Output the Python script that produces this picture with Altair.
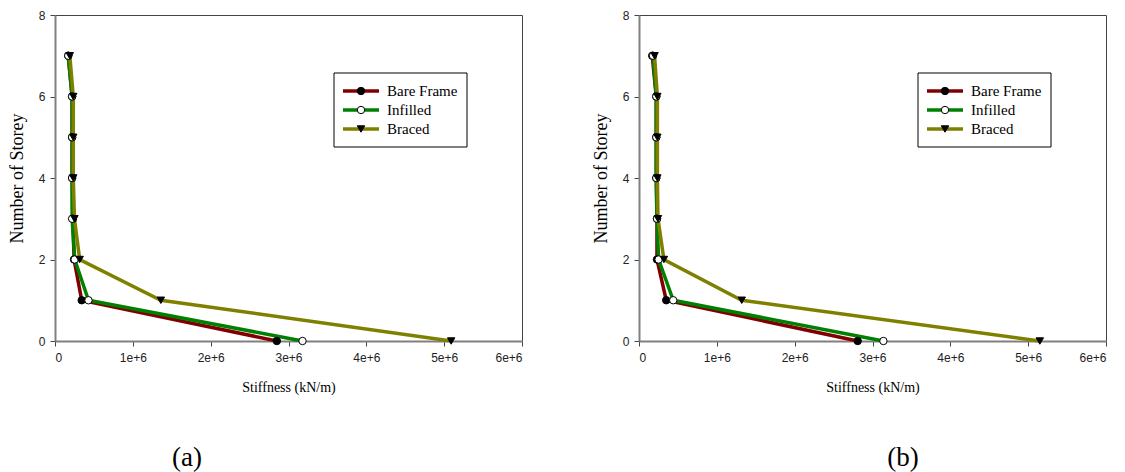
import altair as alt
import pandas as pd

# Storey levels (0 = ground)
storeys = [0, 1, 2, 3, 4, 5, 6, 7]

# Panel (a) stiffness values, kN/m
a_bare = [2.85e6, 0.343e6, 0.245e6, 0.23e6, 0.22e6, 0.22e6, 0.22e6, 0.17e6]
a_infilled = [3.18e6, 0.43e6, 0.253e6, 0.22e6, 0.22e6, 0.22e6, 0.22e6, 0.17e6]
a_braced = [5.09e6, 1.36e6, 0.317e6, 0.25e6, 0.235e6, 0.235e6, 0.235e6, 0.19e6]

# Panel (b) stiffness values, kN/m
b_bare = [2.81e6, 0.35e6, 0.231e6, 0.231e6, 0.222e6, 0.222e6, 0.222e6, 0.17e6]
b_infilled = [3.14e6, 0.44e6, 0.252e6, 0.231e6, 0.222e6, 0.222e6, 0.222e6, 0.18e6]
b_braced = [5.15e6, 1.32e6, 0.32e6, 0.244e6, 0.236e6, 0.236e6, 0.236e6, 0.2e6]

series_names = ["Bare Frame", "Infilled", "Braced"]
line_colors = ["#800000", "#008000", "#808000"]
x_ticks = [0, 1e6, 2e6, 3e6, 4e6, 5e6, 6e6]
y_ticks = [0, 2, 4, 6, 8]

W, H = 467, 326
SERIF = "Liberation Serif, Times New Roman, serif"
SANS = "Liberation Sans, Arial, sans-serif"

# marker style per series: (shape, fill, stroke)
marker_styles = {
    "Bare Frame": ("circle", "black", "black"),
    "Infilled": ("circle", "white", "black"),
    "Braced": ("triangle-down", "black", "black"),
}


def make_frame(bare, infilled, braced):
    rows = []
    for name, vals in zip(series_names, [bare, infilled, braced]):
        for s, v in zip(storeys, vals):
            rows.append({"series": name, "storey": s, "stiffness": v})
    return pd.DataFrame(rows)


def panel(bare, infilled, braced, caption, caption_x):
    df = make_frame(bare, infilled, braced)
    base = alt.Chart(df).encode(
        x=alt.X(
            "stiffness:Q",
            scale=alt.Scale(domain=[0, 6e6], nice=False, zero=True),
            axis=alt.Axis(
                values=x_ticks,
                labelExpr="datum.value == 0 ? '0' : format(datum.value / 1e6, 'd') + 'e+6'",
                title="Stiffness (kN/m)",
                titleFont=SERIF,
                titleFontSize=14,
                titleFontWeight="normal",
                titlePadding=17,
                labelFont=SANS,
                labelFontSize=12,
                labelPadding=6,
                grid=False,
            ),
        ),
        y=alt.Y(
            "storey:Q",
            scale=alt.Scale(domain=[0, 8], nice=False),
            axis=alt.Axis(
                values=y_ticks,
                title="Number of Storey",
                titleFont=SERIF,
                titleFontSize=18,
                titleFontWeight="normal",
                titlePadding=12,
                labelFont=SANS,
                labelFontSize=12,
                labelPadding=5,
                grid=False,
            ),
        ),
        order=alt.Order("storey:Q"),
    )

    lines = base.mark_line(strokeWidth=3.5).encode(
        color=alt.Color(
            "series:N",
            scale=alt.Scale(domain=series_names, range=line_colors),
            legend=None,
        ),
        detail="series:N",
    )

    layers = [lines]
    for name in series_names:
        shape, fill, stroke = marker_styles[name]
        layers.append(
            base.transform_filter(alt.datum.series == name).mark_point(
                shape=shape, filled=True, fill=fill, stroke=stroke,
                strokeWidth=1, size=55, opacity=1,
            )
        )

    # legend box
    lx0, lx1, ly0, ly1 = 279, 412, 58, 132
    layers.append(
        alt.Chart(pd.DataFrame({"k": [0]})).mark_rect(
            fill="white", stroke="black", strokeWidth=1
        ).encode(x=alt.value(lx0), x2=alt.value(lx1), y=alt.value(ly0), y2=alt.value(ly1))
    )
    for i, name in enumerate(series_names):
        yy = 76 + i * 19
        shape, fill, stroke = marker_styles[name]
        one = alt.Chart(pd.DataFrame({"series": [name]}))
        layers.append(
            one.mark_rule(strokeWidth=3.5, color=line_colors[i]).encode(
                x=alt.value(288), x2=alt.value(324), y=alt.value(yy)
            )
        )
        layers.append(
            one.mark_point(shape=shape, filled=True, fill=fill, stroke=stroke,
                           strokeWidth=1, size=55, opacity=1).encode(
                x=alt.value(306), y=alt.value(yy)
            )
        )
        layers.append(
            one.mark_text(align="left", baseline="middle", font=SERIF,
                          fontSize=15, color="black").encode(
                x=alt.value(332), y=alt.value(yy), text="series:N"
            )
        )

    # panel caption below the axis title
    layers.append(
        alt.Chart(pd.DataFrame({"cap": [caption]})).mark_text(
            font=SERIF, fontSize=27, baseline="alphabetic", align="center", color="black"
        ).encode(x=alt.value(caption_x), y=alt.value(451), text="cap:N")
    )

    return alt.layer(*layers).properties(width=W, height=H)


left = panel(a_bare, a_infilled, a_braced, "(a)", 132)
right = panel(b_bare, b_infilled, b_braced, "(b)", 264)

chart = (
    alt.hconcat(left, right, spacing=117, bounds="flush")
    .properties(padding={"left": 7, "top": 8, "right": 2, "bottom": 0}, background="white")
    .configure_view(stroke="#444444", strokeWidth=1)
    .configure_axis(
        domainColor="#808080",
        domainWidth=2,
        tickColor="#444444",
        tickSize=5,
        tickWidth=1,
        labelColor="#222222",
        titleColor="black",
    )
)

chart.save("out.html", embed_options={"renderer": "svg", "actions": False})
